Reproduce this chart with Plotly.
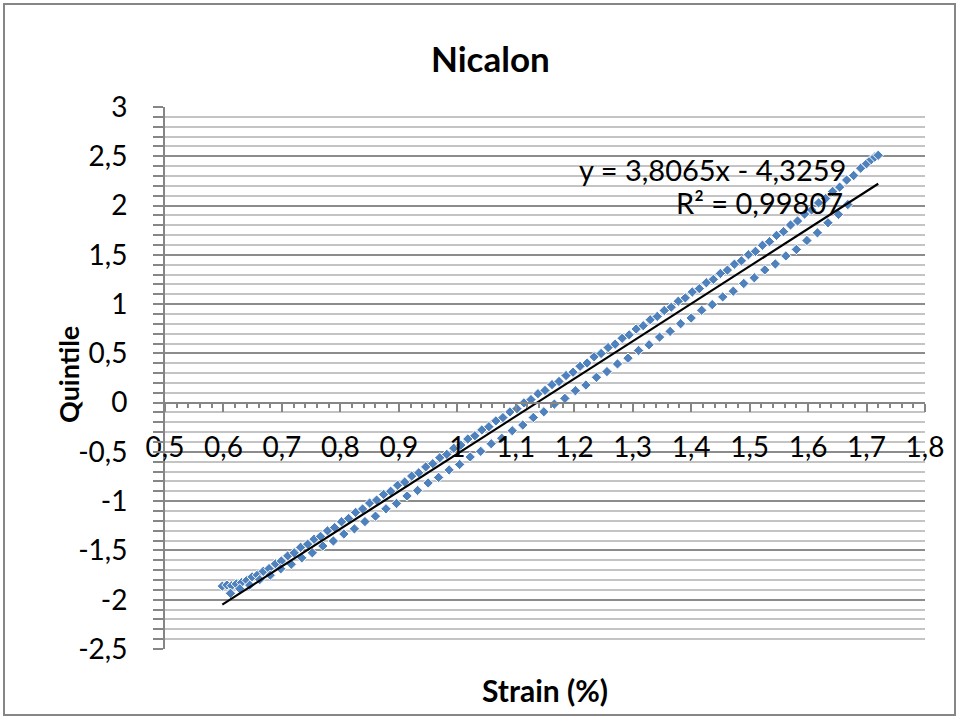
import plotly.graph_objects as go

# ---- data ----
upper_strain = [0.598, 0.606, 0.614, 0.622, 0.631, 0.640, 0.649, 0.658, 0.668, 0.678,
                0.689, 0.699, 0.710, 0.721, 0.732, 0.744, 0.755, 0.766, 0.778, 0.790,
                0.802, 0.814, 0.826, 0.838, 0.850, 0.862, 0.874, 0.886, 0.898, 0.910,
                0.922, 0.934, 0.946, 0.958, 0.970, 0.982, 0.994, 1.006, 1.018, 1.030,
                1.042, 1.054, 1.066, 1.078, 1.090, 1.102, 1.114, 1.126, 1.138, 1.150,
                1.162, 1.174, 1.186, 1.198, 1.210, 1.222, 1.234, 1.246, 1.258, 1.270,
                1.282, 1.294, 1.306, 1.318, 1.330, 1.342, 1.354, 1.366, 1.378, 1.390,
                1.402, 1.414, 1.426, 1.438, 1.450, 1.462, 1.474, 1.486, 1.498, 1.510,
                1.522, 1.534, 1.546, 1.558, 1.570, 1.582, 1.594, 1.606, 1.618, 1.630,
                1.642, 1.654, 1.666, 1.678, 1.690, 1.700, 1.708, 1.714, 1.720]
upper_quintile = [-1.862, -1.851, -1.858, -1.840, -1.826, -1.803, -1.768, -1.749, -1.712, -1.684,
                  -1.636, -1.607, -1.555, -1.524, -1.468, -1.436, -1.386, -1.357, -1.301, -1.268,
                  -1.209, -1.175, -1.114, -1.079, -1.019, -0.989, -0.931, -0.899, -0.838, -0.806,
                  -0.745, -0.712, -0.652, -0.619, -0.559, -0.525, -0.463, -0.431, -0.369, -0.336,
                  -0.277, -0.244, -0.185, -0.152, -0.094, -0.061, -0.002, 0.031, 0.091, 0.124,
                  0.183, 0.215, 0.275, 0.309, 0.369, 0.402, 0.465, 0.499, 0.559, 0.593,
                  0.653, 0.688, 0.747, 0.781, 0.841, 0.875, 0.935, 0.969, 1.029, 1.063,
                  1.123, 1.157, 1.217, 1.251, 1.311, 1.345, 1.405, 1.439, 1.501, 1.535,
                  1.597, 1.633, 1.697, 1.735, 1.803, 1.843, 1.913, 1.955, 2.027, 2.071,
                  2.143, 2.187, 2.259, 2.305, 2.379, 2.424, 2.466, 2.492, 2.510]

lower_strain = [0.612, 0.628, 0.645, 0.662, 0.680, 0.698, 0.716, 0.734, 0.752, 0.770,
                0.788, 0.806, 0.824, 0.842, 0.860, 0.878, 0.896, 0.914, 0.932, 0.950,
                0.968, 0.986, 1.004, 1.022, 1.040, 1.058, 1.076, 1.094, 1.112, 1.130,
                1.148, 1.166, 1.184, 1.202, 1.220, 1.238, 1.256, 1.274, 1.292, 1.310,
                1.328, 1.346, 1.364, 1.382, 1.400, 1.418, 1.436, 1.454, 1.472, 1.490,
                1.508, 1.526, 1.544, 1.562, 1.580, 1.598, 1.616, 1.634, 1.652, 1.668]
lower_quintile = [-1.935, -1.889, -1.852, -1.796, -1.751, -1.686, -1.640, -1.575, -1.524, -1.455,
                  -1.404, -1.333, -1.281, -1.207, -1.152, -1.077, -1.023, -0.947, -0.891, -0.815,
                  -0.759, -0.683, -0.627, -0.551, -0.494, -0.417, -0.361, -0.285, -0.227, -0.151,
                  -0.093, -0.015, 0.043, 0.121, 0.179, 0.257, 0.315, 0.393, 0.451, 0.529,
                  0.587, 0.665, 0.723, 0.801, 0.859, 0.937, 0.995, 1.073, 1.131, 1.209,
                  1.267, 1.347, 1.407, 1.489, 1.555, 1.645, 1.723, 1.825, 1.910, 2.010]

trend_slope = 3.8065
trend_intercept = -4.3259
trend_label = "y = 3,8065x - 4,3259"
r2_label = "R² = 0,99807"

x_ticks = [0.5, 0.6, 0.7, 0.8, 0.9, 1.0, 1.1, 1.2, 1.3, 1.4, 1.5, 1.6, 1.7, 1.8]
x_ticktext = ["0,5", "0,6", "0,7", "0,8", "0,9", "1", "1,1", "1,2", "1,3", "1,4", "1,5", "1,6", "1,7", "1,8"]
y_ticks = [-2.5, -2, -1.5, -1, -0.5, 0, 0.5, 1, 1.5, 2, 2.5, 3]
y_ticktext = ["-2,5", "-2", "-1,5", "-1", "-0,5", "0", "0,5", "1", "1,5", "2", "2,5", "3"]

# ---- styling ----
FONT = "Lato"
BLUE = "#4F81BD"
AXIS = "#868686"

fig = go.Figure()

marker = dict(symbol="diamond", size=8, color=BLUE, line=dict(color="white", width=1))
fig.add_trace(go.Scatter(x=upper_strain, y=upper_quintile, mode="markers", marker=marker,
                         showlegend=False, hoverinfo="x+y"))
fig.add_trace(go.Scatter(x=lower_strain, y=lower_quintile, mode="markers", marker=marker,
                         showlegend=False, hoverinfo="x+y"))

all_x = upper_strain + lower_strain
xmin, xmax = min(all_x), max(all_x)
fig.add_trace(go.Scatter(x=[xmin, xmax],
                         y=[trend_slope * xmin + trend_intercept, trend_slope * xmax + trend_intercept],
                         mode="lines", line=dict(color="black", width=2.2),
                         showlegend=False, hoverinfo="skip"))

fig.update_layout(
    width=960, height=720, autosize=False,
    margin=dict(l=165, r=35, t=107, b=71),
    paper_bgcolor="white", plot_bgcolor="white",
    font=dict(family=FONT, size=28, color="black"),
    showlegend=False,
    xaxis=dict(
        range=[0.5, 1.8], tickmode="array", tickvals=x_ticks, ticktext=x_ticktext,
        showgrid=False, zeroline=False,
        showline=True, linecolor=AXIS, linewidth=2,
        anchor="free", position=2.5 / 5.5,
        ticks="outside", ticklen=8, tickwidth=2, tickcolor=AXIS,
        ticklabelstandoff=12,
        minor=dict(dtick=0.02, tick0=0.5, ticks="outside", ticklen=4, tickwidth=1.5,
                   tickcolor=AXIS, showgrid=False),
        tickfont=dict(family=FONT, size=28, color="black"),
    ),
    yaxis=dict(
        range=[-2.5, 3], tickmode="array", tickvals=y_ticks, ticktext=y_ticktext,
        showgrid=True, gridcolor="#8c8c8c", gridwidth=2,
        zeroline=False,
        showline=True, linecolor=AXIS, linewidth=2,
        ticks="outside", ticklen=10, tickwidth=2, tickcolor=AXIS,
        ticklabelstandoff=20,
        minor=dict(dtick=0.1, tick0=0, ticks="outside", ticklen=10, tickwidth=1.5,
                   tickcolor=AXIS, showgrid=True, gridcolor="#c4c4c4", gridwidth=2),
        tickfont=dict(family=FONT, size=28, color="black"),
    ),
)

# outer chart border
fig.add_shape(type="rect", xref="paper", yref="paper",
              x0=(4 - 165) / 760, x1=(955 - 165) / 760,
              y0=(649 - 715) / 542, y1=(649 - 4) / 542,
              line=dict(color=AXIS, width=2), layer="below")

fig.add_annotation(text="<b>Nicalon</b>", xref="paper", yref="paper",
                   x=(490 - 165) / 760, y=(649 - 58) / 542, showarrow=False,
                   xanchor="center", yanchor="middle", font=dict(family=FONT, size=35))
fig.add_annotation(text="<b>Quintile</b>", xref="paper", yref="paper",
                   x=(68 - 165) / 760, y=(649 - 375) / 542, showarrow=False, textangle=-90,
                   xanchor="center", yanchor="middle", font=dict(family=FONT, size=27))
fig.add_annotation(text="<b>Strain (%)</b>", xref="paper", yref="paper",
                   x=0.5, y=(649 - 690) / 542, showarrow=False,
                   xanchor="center", yanchor="middle", font=dict(family=FONT, size=30))
fig.add_annotation(text=trend_label, xref="x", yref="y",
                   x=1.6675, y=(403 - 170) / 98.6, showarrow=False,
                   xanchor="right", yanchor="middle", font=dict(family=FONT, size=29))
fig.add_annotation(text=r2_label, xref="x", yref="y",
                   x=1.6625, y=(403 - 203) / 98.6, showarrow=False,
                   xanchor="right", yanchor="middle", font=dict(family=FONT, size=29))

fig.write_html("out.html", config={"displayModeBar": False},
               post_script="document.body.style.margin='0';document.body.style.overflow='hidden';")
